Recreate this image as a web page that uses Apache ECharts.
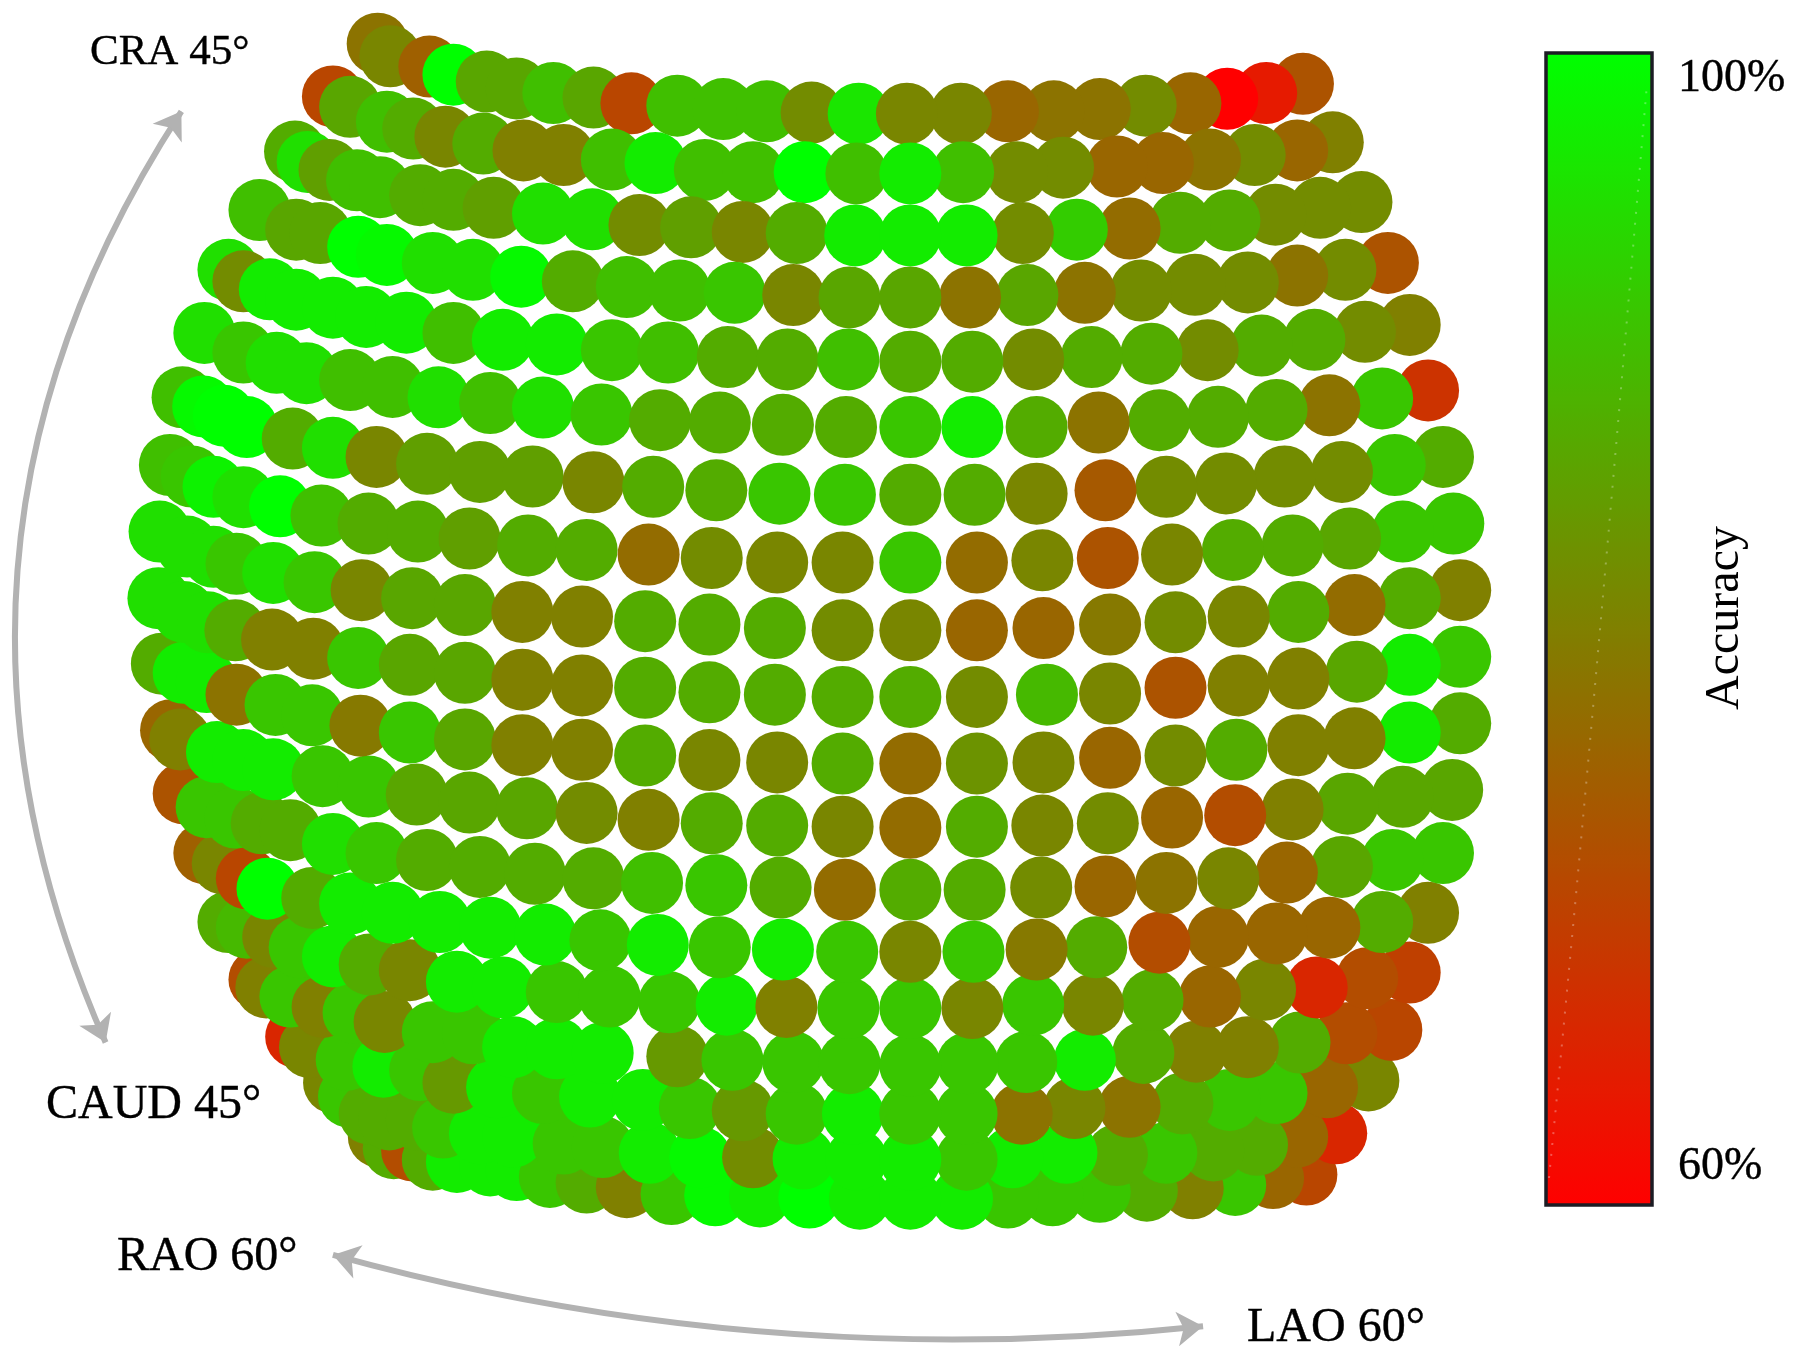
<!DOCTYPE html>
<html>
<head>
<meta charset="utf-8">
<style>html,body{margin:0;padding:0;background:#fff}#chart{width:1800px;height:1356px}</style>
<script src="https://cdn.jsdelivr.net/npm/echarts@6/dist/echarts.min.js"></script>
</head>
<body>
<div id="chart"></div>
<script>
// Values: projected x, projected y and accuracy (%) per row of the view sphere.
const rowX = [
 [329,340,374,395,424,450,482,517,550,590,630,668,707,748,790,837,878,918,958,998,1037,1069,1103,1135],
 [290,305,337,360,388,421,456,491,533,571,614,656,701,746,793,839,886,926,973,1013,1054,1093,1130,1161],
 [257,268,287,311,331,366,395,430,473,516,557,602,647,694,745,793,842,891,938,984,1028,1071,1111,1150,1186],
 [226,258,279,312,337,377,412,454,499,546,592,640,691,740,793,845,895,945,994,1041,1087,1130,1172,1209],
 [199,212,235,258,290,319,354,395,438,485,533,582,634,686,739,793,847,900,951,1003,1052,1099,1145,1189,1228],
 [178,212,241,267,305,342,382,427,473,524,575,627,682,737,793,847,903,957,1010,1061,1112,1158,1204,1244],
 [159,177,195,215,255,290,328,372,418,464,517,569,624,679,736,793,849,903,963,1016,1068,1119,1169,1215,1257],
 [148,167,186,212,244,280,321,364,409,460,511,565,620,677,734,793,851,908,965,1021,1074,1126,1176,1222,1266],
 [139,163,186,206,238,274,315,359,405,455,507,562,618,675,734,793,851,909,967,1024,1079,1131,1180,1228,1272],
 [138,160,181,205,237,273,312,357,405,455,507,562,618,675,734,793,851,912,967,1024,1079,1131,1182,1228,1272],
 [141,160,180,206,240,272,314,357,405,455,507,562,618,677,734,793,851,909,967,1024,1077,1131,1180,1228,1272],
 [149,157,189,212,238,281,321,363,409,459,511,565,620,677,734,793,851,908,965,1021,1076,1126,1174,1222,1265],
 [160,180,205,228,253,290,328,372,418,466,517,568,624,680,736,793,849,907,963,1016,1070,1121,1169,1213,1257],
 [178,194,215,233,272,305,342,383,427,475,523,573,627,682,738,793,848,903,955,1010,1061,1112,1158,1204,1244],
 [199,215,238,261,290,322,357,398,438,485,531,583,633,685,739,793,847,900,952,1004,1054,1102,1147,1191,1228],
 [226,232,253,281,308,335,377,412,447,485,525,590,638,691,740,793,843,894,945,996,1042,1087,1132,1173,1212],
 [258,270,302,334,366,395,433,473,514,560,601,647,694,743,793,842,890,936,984,1030,1071,1112,1156,1192],
 [291,304,322,339,363,386,418,447,491,525,566,610,656,700,746,793,842,882,929,973,1016,1057,1095,1130,1164],
 [330,343,359,377,398,427,450,479,511,546,585,623,662,705,749,793,838,878,917,958,999,1039,1076,1109,1138]
];
const rowY = [
 [38,49,58,65,71,77,81,85,90,92,95,97,98,99,99,99,97,97,95,92,90,86,81,73],
 [84,93,106,112,119,125,131,135,139,142,148,150,150,151,151,150,150,146,145,142,139,135,131,124],
 [132,141,148,157,163,170,174,181,186,191,196,198,202,203,205,205,205,203,200,199,194,192,187,181,176],
 [183,200,203,215,222,229,235,241,245,250,253,255,257,259,259,259,257,255,253,248,246,240,235,229],
 [235,245,252,261,268,276,281,290,296,300,305,307,311,313,313,315,315,313,311,308,305,301,296,289,283],
 [290,307,316,325,331,337,346,351,355,361,366,368,370,372,372,372,372,368,366,363,357,353,347,340],
 [346,354,362,372,382,390,398,404,411,415,420,424,427,430,431,431,431,430,427,424,421,415,411,405,398],
 [405,415,424,433,441,449,456,463,469,475,479,483,486,490,490,490,490,488,486,483,479,475,469,463,456],
 [463,476,485,491,499,507,514,521,527,533,537,541,544,547,549,549,549,547,544,542,537,533,527,521,514],
 [521,533,542,549,557,565,573,579,586,592,597,599,603,605,607,607,607,605,604,599,597,591,585,579,572],
 [578,586,594,605,614,623,632,638,644,649,653,658,662,664,665,665,665,664,660,658,653,649,643,638,630],
 [636,644,655,662,670,676,685,692,699,704,708,714,717,719,720,721,720,719,717,712,710,705,700,694,688],
 [691,703,712,717,723,735,743,749,755,761,765,769,771,773,775,775,775,773,772,769,765,760,755,749,743],
 [743,752,765,774,782,787,795,803,808,814,819,823,825,827,829,829,829,827,825,821,816,813,808,803,795],
 [803,808,816,825,833,840,845,855,860,864,868,873,875,877,878,878,878,875,875,871,868,862,860,852,847],
 [853,860,868,877,882,890,899,900,912,913,917,920,923,925,926,928,926,925,923,917,916,912,908,900,897],
 [903,912,923,929,932,943,947,952,955,958,965,967,970,970,970,970,970,965,964,961,958,952,947,941],
 [943,955,970,975,975,982,987,990,996,999,1004,1008,1008,1009,1010,1010,1010,1008,1004,1006,1004,1002,997,990,987],
 [990,1000,1002,1010,1012,1015,1019,1025,1030,1034,1040,1041,1042,1043,1044,1044,1044,1043,1041,1038,1037,1035,1032,1026,1023]
];
const rowAccuracy = [
 [78,81,75,100,86,86,90,86,71,90,90,90,82,96,81,81,76,78,78,82,76,60,64,73],
 [71,86,90,87,81,87,80,80,90,97,90,90,100,90,97,90,82,82,76,76,78,82,76,80],
 [87,95,85,90,90,87,87,85,95,95,82,85,81,87,97,97,97,82,92,77,87,87,82,82,82],
 [90,86,86,100,99,95,95,99,87,90,90,91,81,86,86,78,86,78,82,82,82,78,82,73],
 [95,82,97,97,97,97,97,90,97,97,91,90,87,87,90,87,87,82,87,87,82,87,87,82,80],
 [95,91,95,95,90,90,95,90,95,91,87,87,87,87,91,97,87,78,87,87,87,78,91,68],
 [90,99,100,100,87,95,81,85,85,85,81,87,87,91,91,87,87,81,74,82,82,82,82,91,87],
 [90,91,98,95,100,90,87,87,85,87,87,77,82,81,81,91,77,81,73,81,87,87,86,91,91],
 [95,95,95,91,95,91,81,86,86,80,80,87,87,87,82,81,76,76,79,82,81,87,77,87,80],
 [95,95,95,87,80,80,91,86,86,80,80,87,87,87,87,87,82,89,81,73,80,80,86,97,91],
 [87,97,97,78,91,91,79,91,86,80,80,87,81,81,87,77,83,81,76,82,87,80,80,97,87],
 [76,80,97,97,97,91,91,86,86,86,82,80,87,87,81,77,87,81,82,76,72,80,86,86,86],
 [73,91,91,87,87,95,91,87,87,87,87,90,91,87,77,87,87,82,76,78,81,76,86,91,91],
 [75,81,71,100,87,97,97,97,97,97,91,97,91,97,91,81,91,79,87,72,76,76,76,87,80],
 [87,89,81,91,97,87,81,97,97,91,91,91,97,80,91,91,81,91,81,87,76,81,66,72,70],
 [72,80,91,80,91,81,91,91,97,97,97,84,91,91,91,91,91,91,97,87,80,80,87,72,71],
 [66,81,91,97,91,84,97,91,97,97,91,84,91,97,91,91,78,81,78,87,91,91,76,81],
 [81,91,87,87,87,91,97,97,91,91,97,99,82,97,97,97,91,97,97,87,91,87,87,76,66],
 [80,87,72,87,97,97,97,91,87,80,91,99,97,100,97,97,97,91,91,91,87,80,91,76,71]
];
const colorStops = ['#ff0000', '#00ff00'];
const accuracyRange = [60, 100];
const sphereCentre = [793, 530];
const viewLabels = ['CRA 45°', 'CAUD 45°', 'RAO 60°', 'LAO 60°'];
const scaleLabels = ['100%', '60%'];
const scaleTitle = 'Accuracy';

// Points facing the viewer lie on top, so the far ones are drawn first.
const points = [];
rowX.forEach((xs, r) => xs.forEach((x, c) => points.push([x, rowY[r][c], rowAccuracy[r][c]])));
const farness = p => Math.hypot(p[0] - sphereCentre[0], p[1] - sphereCentre[1]);
points.sort((a, b) => farness(b) - farness(a));

const serif = '"Liberation Serif","Times New Roman",serif';
const label = (text, x, y, size, extra) => Object.assign({
  type: 'text', x, y, z: 50,
  style: { text, fill: '#000', stroke: '#000', lineWidth: 0.4, font: size + 'px ' + serif, textAlign: 'left', textVerticalAlign: 'middle' }
}, extra || {});

const chart = echarts.init(document.getElementById('chart'), null, { renderer: 'canvas' });
chart.setOption({
  animation: false,
  backgroundColor: '#fff',
  grid: { left: 0, right: 0, top: 0, bottom: 0 },
  xAxis: { type: 'value', min: 0, max: 1568, show: false },
  yAxis: { type: 'value', min: 0, max: 1181, inverse: true, show: false },
  visualMap: {
    type: 'continuous', seriesIndex: 0, dimension: 2,
    min: accuracyRange[0], max: accuracyRange[1],
    inRange: { color: colorStops }, calculable: false, text: ['', ''],
    orient: 'vertical', left: 1546, top: 53, itemWidth: 106, itemHeight: 1152,
    padding: 0, hoverLink: false
  },
  series: [
    { type: 'scatter', data: points, symbol: 'circle', symbolSize: 62, itemStyle: { opacity: 1 }, silent: true, z: 3 },
    {
      type: 'lines', coordinateSystem: 'cartesian2d', polyline: false, silent: true, z: 2,
      symbol: ['arrow', 'arrow'], symbolSize: 26,
      lineStyle: { color: '#b2b2b2', width: 6, opacity: 1, curveness: -0.27 },
      data: [{ coords: [[158, 97], [92, 908]] }]
    },
    {
      type: 'lines', coordinateSystem: 'cartesian2d', polyline: false, silent: true, z: 2,
      symbol: ['arrow', 'arrow'], symbolSize: 26,
      lineStyle: { color: '#b2b2b2', width: 6, opacity: 1, curveness: -0.095 },
      data: [{ coords: [[290, 1093], [1048, 1155]] }]
    }
  ],
  graphic: [
    label(viewLabels[0], 90, 53, 43),
    label(viewLabels[1], 46, 1105, 48),
    label(viewLabels[2], 117, 1257, 48),
    label(viewLabels[3], 1247, 1328, 48),
    label(scaleLabels[0], 1678, 79, 46),
    label(scaleLabels[1], 1678, 1167, 46),
    {
      type: 'text', x: 1725, y: 618, rotation: Math.PI / 2, z: 50,
      style: { text: scaleTitle, fill: '#000', font: '48px ' + serif, textAlign: 'center', textVerticalAlign: 'middle' }
    },
    {
      type: 'bezierCurve', z: 40,
      shape: { x1: 1549, y1: 1178, x2: 1647, y2: 84, cpx1: 1590, cpy1: 760, cpx2: 1620, cpy2: 400 },
      style: { stroke: 'rgba(255,255,255,0.3)', lineWidth: 2, lineDash: [2, 9], fill: 'none' }
    },
    {
      type: 'rect', z: 45,
      shape: { x: 1546, y: 53, width: 106, height: 1152 },
      style: { fill: 'none', stroke: '#1c1c24', lineWidth: 3.5 }
    }
  ]
});
</script>
</body>
</html>
